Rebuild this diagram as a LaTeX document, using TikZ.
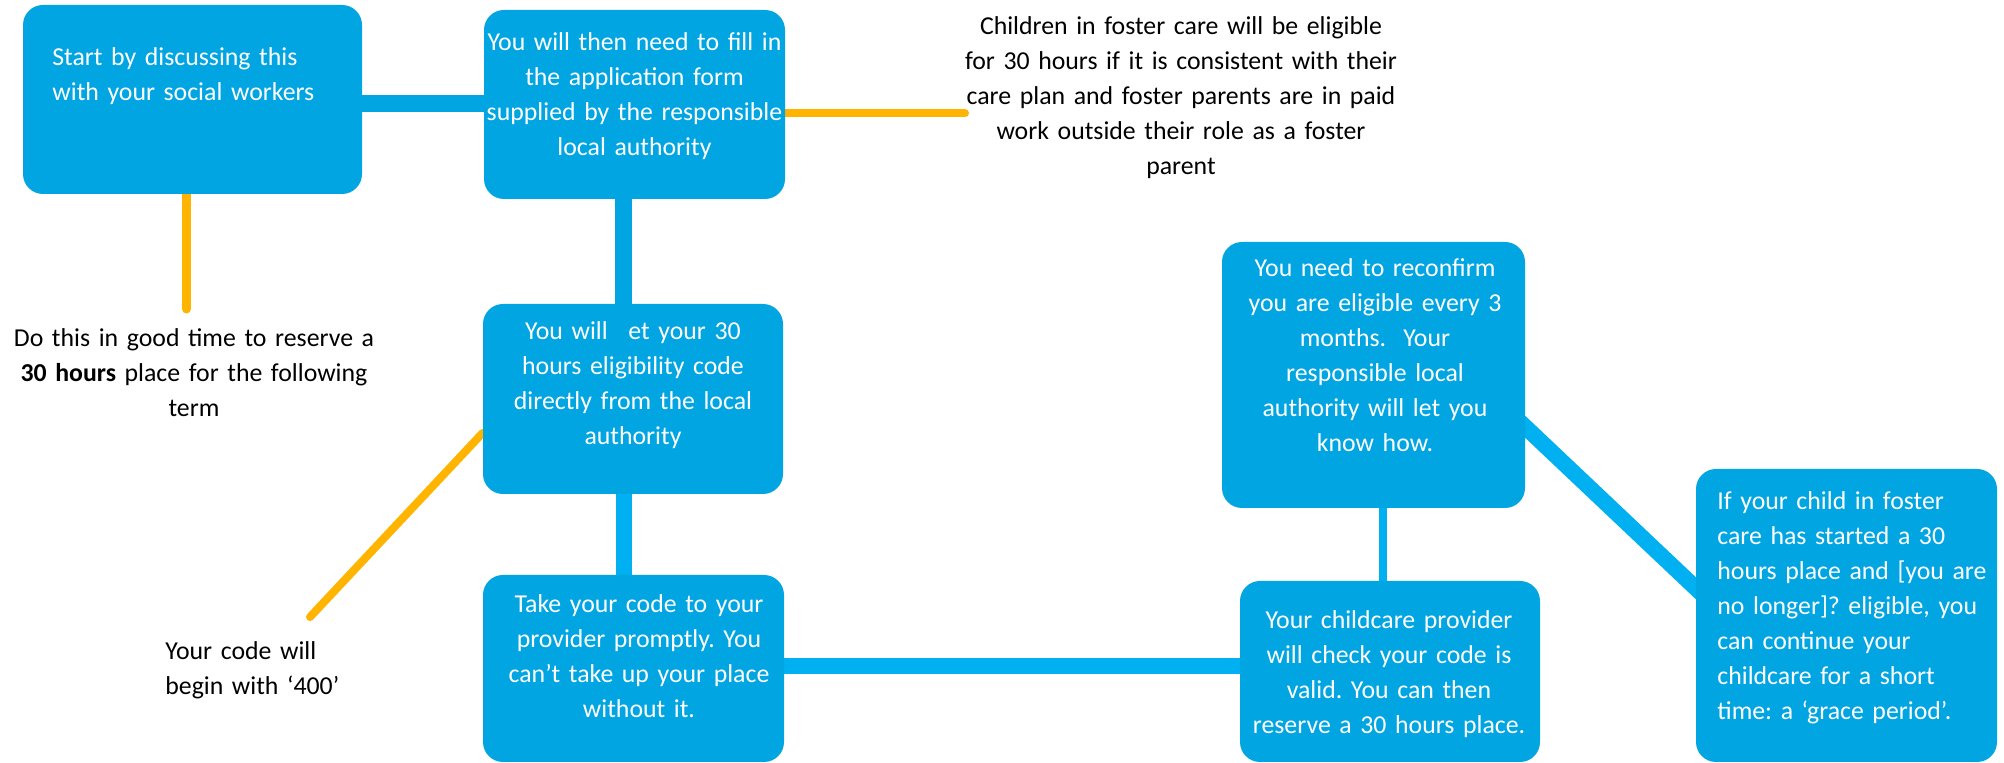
\documentclass[tikz,border=0pt]{standalone}
\usepackage{fontspec}
\setmainfont{Carlito}
\usetikzlibrary{calc}
\pgfdeclarelayer{back}
\pgfdeclarelayer{bg}
\pgfsetlayers{back,bg,main}
\definecolor{boxblue}{HTML}{00A5E2}
\definecolor{linkblue}{HTML}{00B0F0}
\definecolor{gold}{HTML}{FFB400}
\newcommand\diafont{\frenchspacing\fontsize{12.9pt}{17.5pt}\selectfont}
\begin{document}
\frenchspacing
\begin{tikzpicture}[x=0.5pt,y=-0.5pt,
  box/.style={fill=boxblue, draw=none, rounded corners=10pt, inner sep=0pt},
  wtxt/.style={text=white, font=\diafont, inner sep=0pt, text width=160pt, align=center},
  btxt/.style={text=black, font=\diafont, inner sep=0pt, text width=230pt, align=center},
  conn/.style={line width=8.5pt, draw=boxblue},
  lconn/.style={line width=8pt, draw=linkblue},
  gline/.style={line width=4pt, draw=gold, line cap=round}]
\useasboundingbox (0,0) rectangle (2004,763);
\begin{pgfonlayer}{back}
  \fill[white] (0,0) rectangle (2004,763);
\end{pgfonlayer}

% boxes
\node[box, minimum width=169.5pt, minimum height=94.5pt] (b1) at (192.5,99.5) {};
\node[box, minimum width=150.5pt, minimum height=94.5pt] (b2) at (634.5,104.5) {};
\node[box, minimum width=150pt, minimum height=95pt] (b3) at (633,399) {};
\node[box, minimum width=150.5pt, minimum height=93.5pt] (b4) at (633.5,668.5) {};
\node[box, minimum width=150pt, minimum height=90.5pt] (b5) at (1390,671.5) {};
\node[box, minimum width=151.5pt, minimum height=133pt] (b6) at (1373.5,375) {};
\node[box, minimum width=150.5pt, minimum height=146.5pt] (b7) at (1846.5,615.5) {};

% texts in boxes
\node[wtxt, align=left, anchor=base west] (t1) at (52,66) {Start by discussing this\\with your social workers};
\node[wtxt, anchor=base] (t2) at (634.5,51) {You will then need to fill in\\the application form\\supplied by the responsible\\local authority};
\node[wtxt, anchor=base] (t3) at (633,340) {You will \phantom{g}et your 30\\hours eligibility code\\directly from the local\\authority};
\node[wtxt, anchor=base] (t4) at (639,613) {Take your code to your\\provider promptly. You\\can’t take up your place\\without it.};
\node[wtxt, anchor=base] (t5) at (1389,629) {Your childcare provider\\will check your code is\\valid. You can then\\reserve a 30 hours place.};
\node[wtxt, anchor=base] (t6) at (1375,277) {You need to reconfirm\\you are eligible every 3\\months.~~Your\\responsible local\\authority will let you\\know how.};
\node[wtxt, align=left, anchor=base west] (t7) at (1717,510) {If your child in foster\\care has started a 30\\hours place and [you are\\no longer]? eligible, you\\can continue your\\childcare for a short\\time: a ‘grace period’.};

% free texts
\node[btxt, anchor=base] (n1) at (1181,35) {Children in foster care will be eligible\\for 30 hours if it is consistent with their\\care plan and foster parents are in paid\\work outside their role as a foster\\parent};
\node[btxt, anchor=base] (n2) at (194,347) {Do this in good time to reserve a\\\textbf{30 hours} place for the following\\term};
\node[btxt, align=left, anchor=base west] (n3) at (165,660) {Your code will\\begin with ‘400’};

% connectors
\coordinate (c12) at (0,103.5);
\coordinate (c23) at (623.5,0);
\coordinate (c45) at (0,666);
\coordinate (c65) at (1383,0);
\coordinate (c67a) at (0,427);
\coordinate (c67b) at (0,588);
\coordinate (o1) at (186.5,309);
\coordinate (o2) at (965,113.5);
\coordinate (o3) at (310,617);
\coordinate (o3a) at (0,433);
\begin{pgfonlayer}{bg}
  \draw[conn] (b1.east |- c12) -- (b2.west |- c12);
  \draw[conn] (b2.south -| c23) -- (b3.north -| c23);
  \draw[lconn] (b3.south -| c23) -- (b4.north -| c23);
  \draw[lconn] (b4.east |- c45) -- (b5.west |- c45);
  \draw[lconn, line width=4pt] (b6.south -| c65) -- (b5.north -| c65);
  \coordinate (d6) at (b6.east |- c67a);
  \coordinate (d7) at (b7.west |- c67b);
  \draw[lconn] ($(d6)!-10pt!(d7)$) -- ($(d7)!-10pt!(d6)$);
  \draw[gline, line width=4.5pt] (b1.south -| o1) -- (o1);
  \draw[gline] (b2.east |- o2) -- (o2);
  \draw[gline] (b3.west |- o3a) -- (o3);
\end{pgfonlayer}
\end{tikzpicture}
\end{document}
